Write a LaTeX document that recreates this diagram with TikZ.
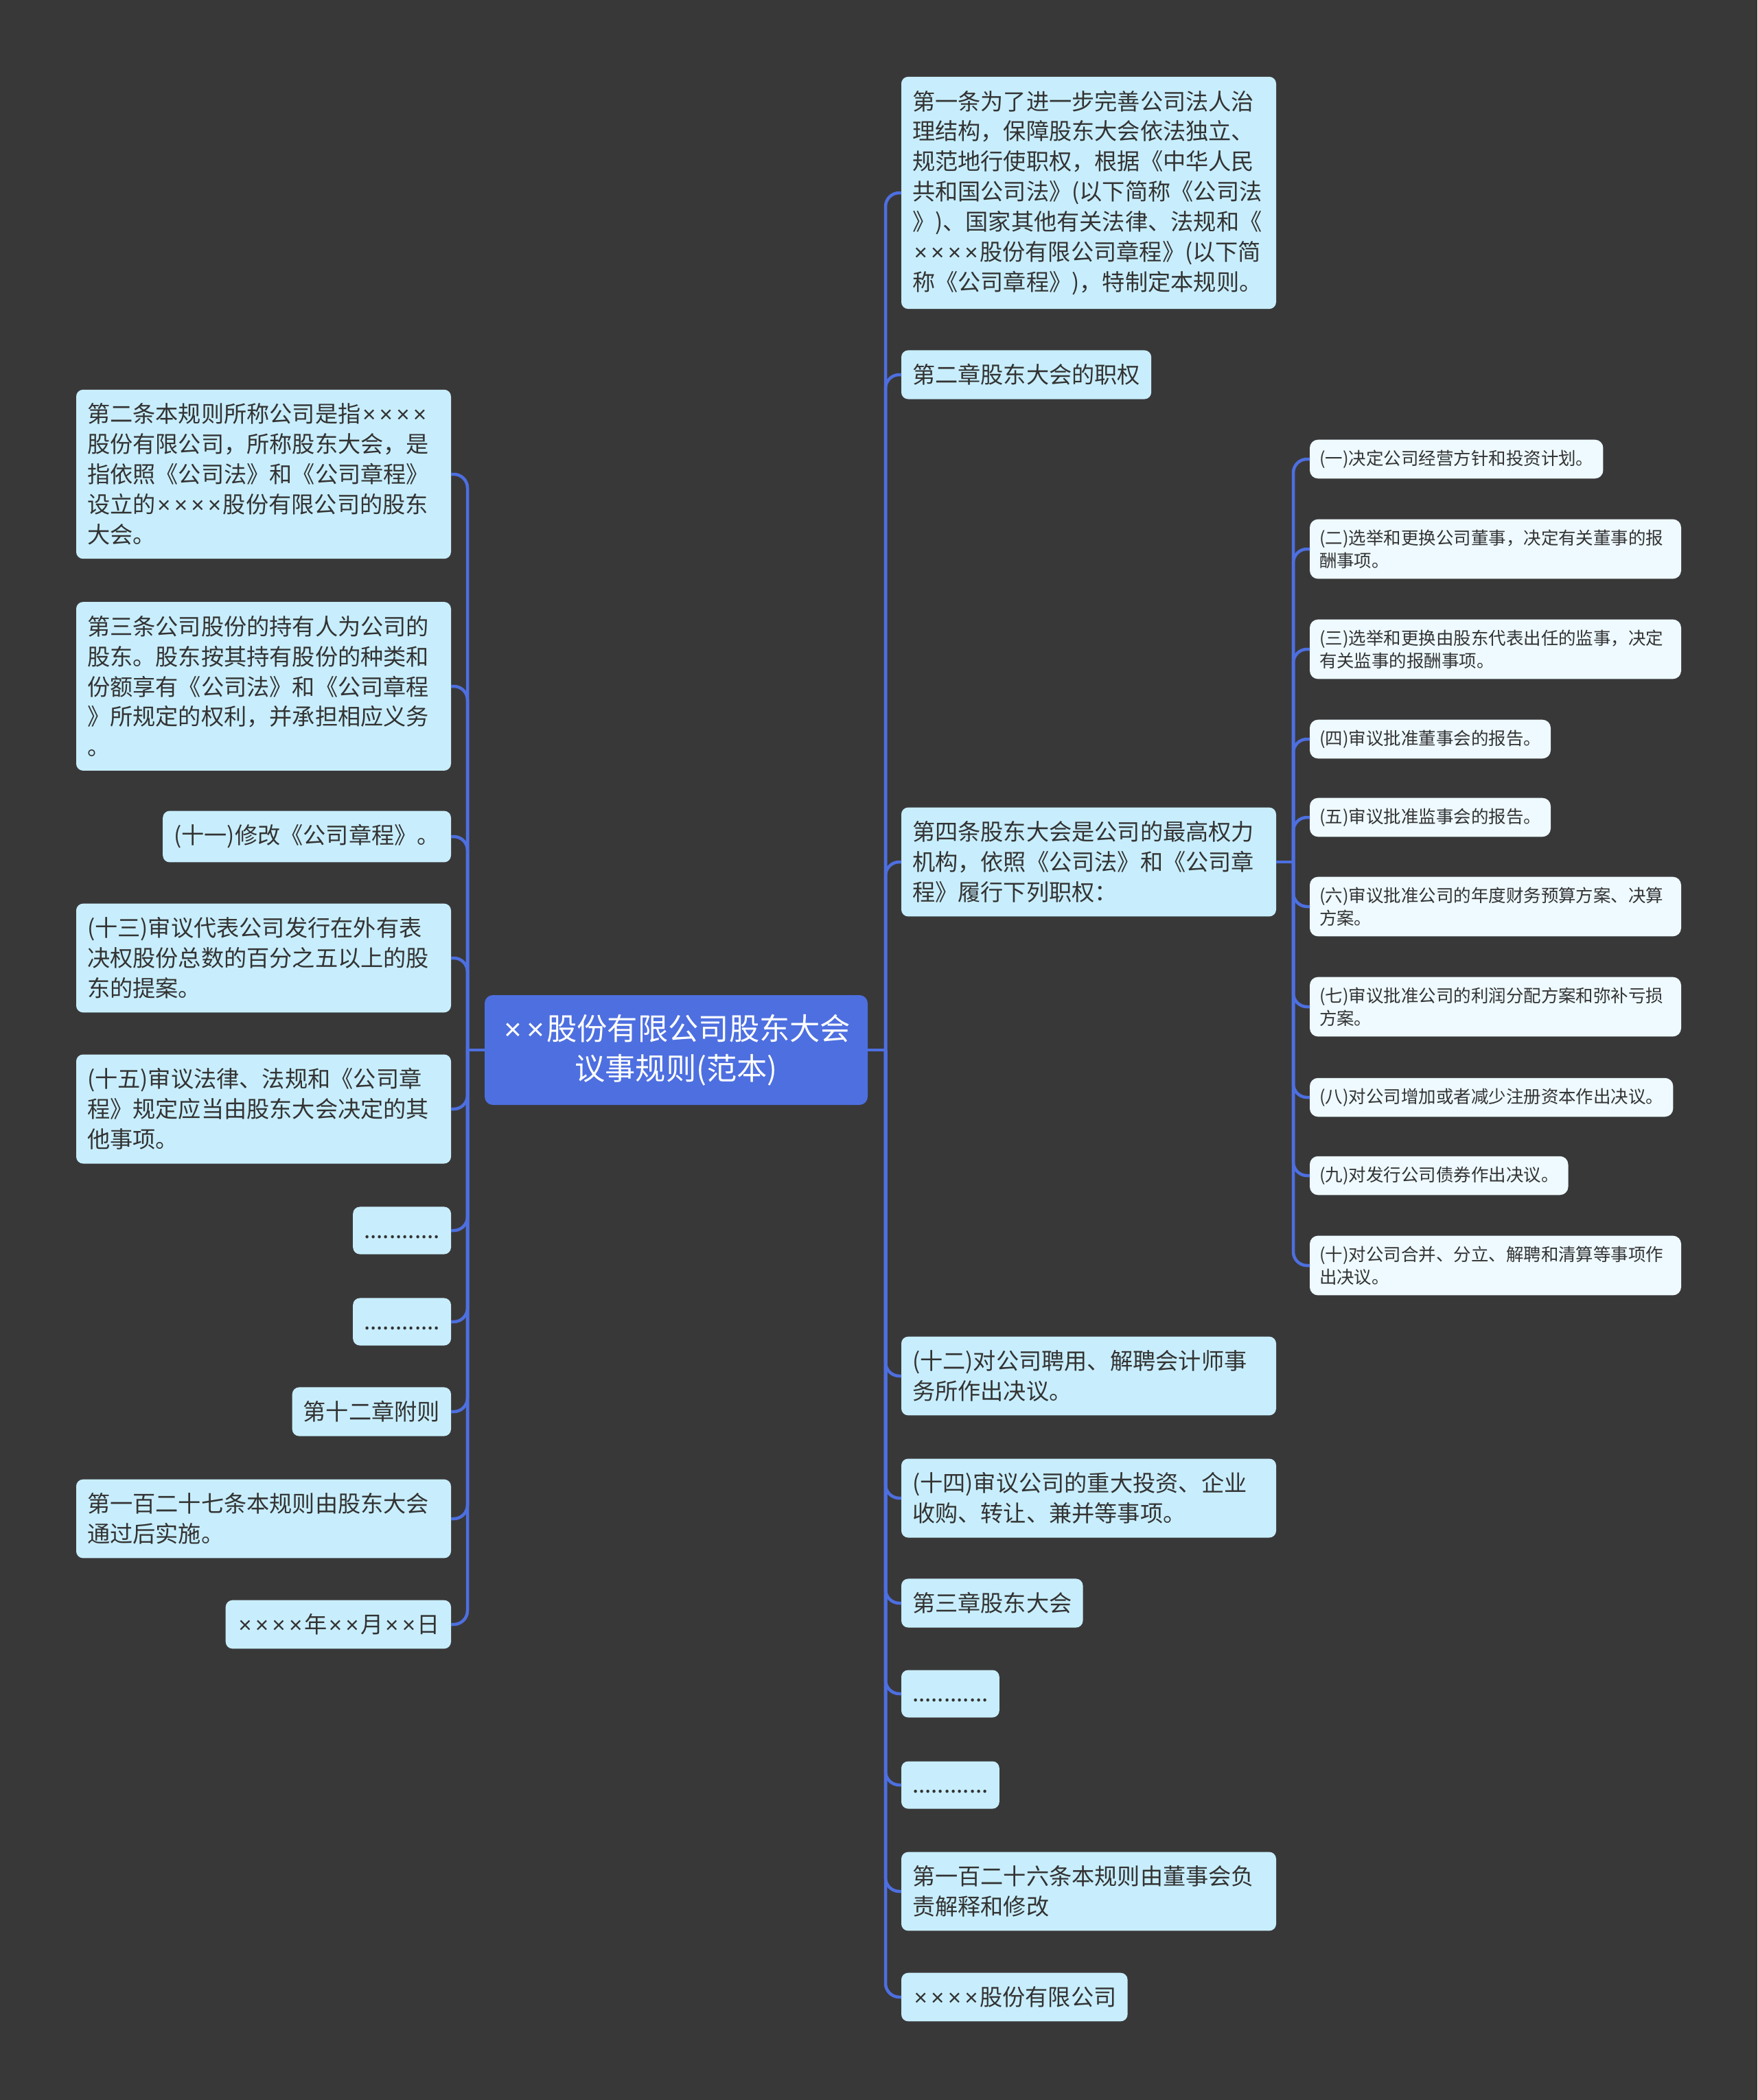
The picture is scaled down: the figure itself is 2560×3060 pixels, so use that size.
\documentclass[tikz,border=0pt]{standalone}
\usepackage{fontspec}
\newfontfamily\cjk{Noto Sans CJK SC}
\newfontfamily\latinfont{Liberation Sans}
\newcommand{\tms}{\makebox[0.74em]{\latinfont ×}}
\definecolor{bgdark}{HTML}{393839}
\definecolor{rootblue}{HTML}{4D6FE0}
\definecolor{linkblue}{HTML}{4D6FE0}
\definecolor{itemfill}{HTML}{C8EEFD}
\definecolor{subfill}{HTML}{EEFAFF}
\definecolor{textgray}{HTML}{333333}

\begin{document}
\begin{tikzpicture}[x=0.1mm, y=-0.1mm,
  every node/.style={inner sep=0pt, outer sep=0pt},
  link/.style={draw=linkblue, line width=0.45mm, rounded corners=2mm},
  root/.style={fill=rootblue, text=white, rounded corners=1.2mm, minimum width=55.8mm, minimum height=16mm, align=center, font=\cjk\fontsize{12.6}{16.5}\selectfont},
  item/.style={fill=itemfill, text=textgray, rounded corners=1mm, inner xsep=1.6mm, inner ysep=2mm, align=left, font=\cjk\fontsize{9.45}{12.5}\selectfont},
  sub/.style={fill=subfill, text=textgray, rounded corners=1.2mm, inner xsep=1.4mm, inner ysep=1.5mm, align=left, font=\cjk\fontsize{7.25}{9.4}\selectfont},
  wide/.style={text width=51.4mm},
  subwide/.style={text width=51.3mm}]

\fill[bgdark] (0,0) rectangle (2560,3060);

% centre
\node[root] (root) at (985,1530) {\tms\tms 股份有限公司股东大会\\议事规则(范本)};

% left branch
\node[item, wide, anchor=east] (l1) at (657,691) {第二条本规则所称公司是指\tms\tms\tms\tms\\股份有限公司，所称股东大会，是\\指依照《公司法》和《公司章程》\\设立的\tms\tms\tms\tms 股份有限公司的股东\\大会。};
\node[item, wide, anchor=east] (l2) at (657,1000) {第三条公司股份的持有人为公司的\\股东。股东按其持有股份的种类和\\份额享有《公司法》和《公司章程\\》所规定的权利，并承担相应义务\\。};
\node[item, anchor=east] (l3) at (657,1219) {(十一)修改《公司章程》。};
\node[item, wide, anchor=east] (l4) at (657,1396) {(十三)审议代表公司发行在外有表\\决权股份总数的百分之五以上的股\\东的提案。};
\node[item, wide, anchor=east] (l5) at (657,1616) {(十五)审议法律、法规和《公司章\\程》规定应当由股东大会决定的其\\他事项。};
\node[item, anchor=east] (l6) at (657,1793) {\vphantom{国}............};
\node[item, anchor=east] (l7) at (657,1926) {\vphantom{国}............};
\node[item, anchor=east] (l8) at (657,2057) {第十二章附则};
\node[item, wide, anchor=east] (l9) at (657,2213) {第一百二十七条本规则由股东大会\\通过后实施。};
\node[item, anchor=east] (l10) at (657,2367) {\tms\tms\tms\tms 年\tms\tms 月\tms\tms 日};

% right branch
\node[item, wide, anchor=west] (r1) at (1313,281) {第一条为了进一步完善公司法人治\\理结构，保障股东大会依法独立、\\规范地行使职权，根据《中华人民\\共和国公司法》(以下简称《公司法\\》)、国家其他有关法律、法规和《\\\tms\tms\tms\tms 股份有限公司章程》(以下简\\称《公司章程》)，特制定本规则。};
\node[item, anchor=west] (r2) at (1313,546) {第二章股东大会的职权};
\node[item, wide, anchor=west] (r3) at (1313,1256) {第四条股东大会是公司的最高权力\\机构，依照《公司法》和《公司章\\程》履行下列职权：};
\node[item, wide, anchor=west] (r4) at (1313,2005) {(十二)对公司聘用、解聘会计师事\\务所作出决议。};
\node[item, wide, anchor=west] (r5) at (1313,2183) {(十四)审议公司的重大投资、企业\\收购、转让、兼并等事项。};
\node[item, anchor=west] (r6) at (1313,2336) {第三章股东大会};
\node[item, anchor=west] (r7) at (1313,2468) {\vphantom{国}............};
\node[item, anchor=west] (r8) at (1313,2601) {\vphantom{国}............};
\node[item, wide, anchor=west] (r9) at (1313,2756) {第一百二十六条本规则由董事会负\\责解释和修改};
\node[item, anchor=west] (r10) at (1313,2910) {\tms\tms\tms\tms 股份有限公司};

% powers listed under article four
\node[sub, anchor=west] (s1) at (1908,669) {(一)决定公司经营方针和投资计划。};
\node[sub, subwide, anchor=west] (s2) at (1908,800) {(二)选举和更换公司董事，决定有关董事的报\\酬事项。};
\node[sub, subwide, anchor=west] (s3) at (1908,946) {(三)选举和更换由股东代表出任的监事，决定\\有关监事的报酬事项。};
\node[sub, anchor=west] (s4) at (1908,1077) {(四)审议批准董事会的报告。};
\node[sub, anchor=west] (s5) at (1908,1191) {(五)审议批准监事会的报告。};
\node[sub, subwide, anchor=west] (s6) at (1908,1321) {(六)审议批准公司的年度财务预算方案、决算\\方案。};
\node[sub, subwide, anchor=west] (s7) at (1908,1467) {(七)审议批准公司的利润分配方案和弥补亏损\\方案。};
\node[sub, anchor=west] (s8) at (1908,1599) {(八)对公司增加或者减少注册资本作出决议。};
\node[sub, anchor=west] (s9) at (1908,1713) {(九)对发行公司债券作出决议。};
\node[sub, subwide, anchor=west] (s10) at (1908,1844) {(十)对公司合并、分立、解聘和清算等事项作\\出决议。};

% connectors
\coordinate (jl) at (681,1530);
\coordinate (jr) at (1290,1530);
\draw[link] (root.west) -- (jl);
\draw[link] (root.east) -- (jr);
\foreach \n in {l1,l2,l3,l4,l5,l6,l7,l8,l9,l10}
  \draw[link] (jl) |- (\n.east);
\foreach \n in {r1,r2,r3,r4,r5,r6,r7,r8,r9,r10}
  \draw[link] (jr) |- (\n.west);
\draw[link] (r3.east) -- ++(25,0) coordinate (js);
\foreach \n in {s1,s2,s3,s4,s5,s6,s7,s8,s9,s10}
  \draw[link] (js) |- (\n.west);
\end{tikzpicture}
\end{document}
